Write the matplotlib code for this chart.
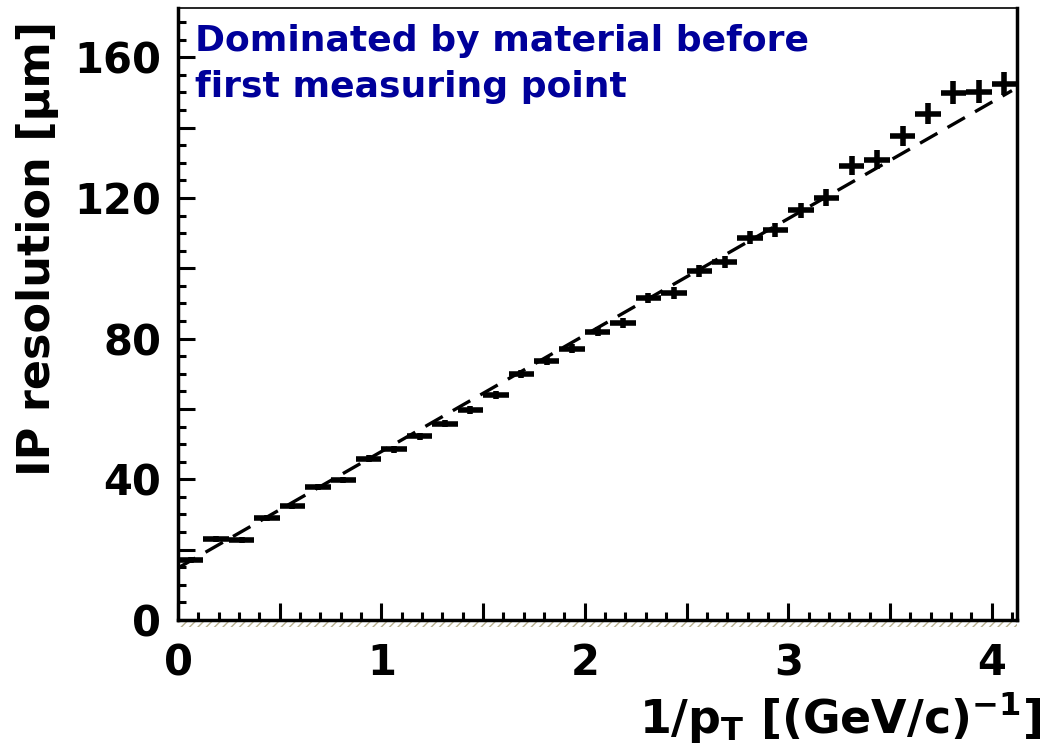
#!/usr/bin/env python

'''IP resolution versus 1/pT with a linear fit.'''

import matplotlib.pyplot as plt
from matplotlib.ticker import MultipleLocator, FuncFormatter
from matplotlib.patches import Rectangle

########################################################################
# Data (bins of 0.125 in 1/pT)

inv_pt = [0.0625 + 0.125 * i for i in range(33)]
ip_res = [17.1, 23.0, 22.8, 29.0, 32.4, 37.8, 39.8, 45.8, 48.5, 52.3,
          55.8, 59.7, 64.0, 70.0, 73.7, 77.1, 82.0, 84.5, 91.6, 93.0,
          99.3, 101.8, 108.7, 111.0, 116.5, 120.1, 129.2, 130.9, 137.7,
          144.0, 149.9, 150.2, 152.5]
ip_err = [0.8, 0.8, 0.8, 0.8, 0.9, 0.9, 0.9, 1.0, 1.0, 1.0,
          1.0, 1.1, 1.1, 1.2, 1.2, 1.3, 1.3, 1.4, 1.5, 1.6,
          1.7, 1.8, 1.9, 2.0, 2.1, 2.3, 2.6, 2.7, 2.8,
          3.1, 3.3, 3.2, 3.3]
bin_half = 0.0625

fit_x = [0.0, 4.1]
fit_intercept = 14.8
fit_slope = 33.1

########################################################################
# Plot

plt.rcParams['font.family'] = ['DejaVu Sans']
plt.rcParams['font.weight'] = 'bold'
plt.rcParams['mathtext.default'] = 'bf'

fig = plt.figure(figsize=(10.46, 7.53), dpi=100)
ax = fig.add_axes([0.1702, 0.1766, 0.8021, 0.8128])

ax.errorbar(inv_pt, ip_res, xerr=bin_half, yerr=ip_err, fmt='none',
            ecolor='black', elinewidth=4.0, capsize=0)
ax.plot(fit_x, [fit_intercept + fit_slope * x for x in fit_x],
        color='black', lw=2.4, ls=(0, (6, 3.5)))

ax.set_xlim(0, 4.125)
ax.set_ylim(0, 174)

ax.xaxis.set_major_locator(MultipleLocator(0.5))
ax.xaxis.set_minor_locator(MultipleLocator(0.1))
ax.xaxis.set_major_formatter(FuncFormatter(
    lambda v, p: '%d' % v if abs(v - round(v)) < 1e-6 else ''))
ax.yaxis.set_major_locator(MultipleLocator(20))
ax.yaxis.set_minor_locator(MultipleLocator(5))
ax.yaxis.set_major_formatter(FuncFormatter(
    lambda v, p: '%d' % v if int(round(v)) % 40 == 0 else ''))

ax.tick_params(which='both', direction='in', top=False, right=False,
               width=2.2, labelsize=30)
ax.tick_params(which='major', length=12)
ax.tick_params(which='minor', length=6)
ax.tick_params(axis='x', pad=16)
ax.tick_params(axis='y', pad=12)

for side in ['left', 'bottom', 'right']:
    ax.spines[side].set_linewidth(2.5)
ax.spines['top'].set_linewidth(1.2)

# ROOT-style hatch under the x axis
ax.add_patch(Rectangle((0, -0.012), 1, 0.012, transform=ax.transAxes,
                       facecolor='none', edgecolor='#b8b090', hatch='////',
                       lw=0, clip_on=False))

fig.text(0.036, 0.972, 'IP resolution [\u03bcm]', rotation=90,
         ha='center', va='top', fontsize=32, fontweight='bold')
fig.text(0.995, 0.046, '1/p$_{T}$ [(GeV/c)$^{-1}$]',
         ha='right', va='center', fontsize=33, fontweight='bold')

fig.text(0.186, 0.968, 'Dominated by material before\nfirst measuring point',
         ha='left', va='top', fontsize=26, fontweight='bold',
         color='#00009a', linespacing=1.45)

plt.savefig('out.png', dpi=100)
